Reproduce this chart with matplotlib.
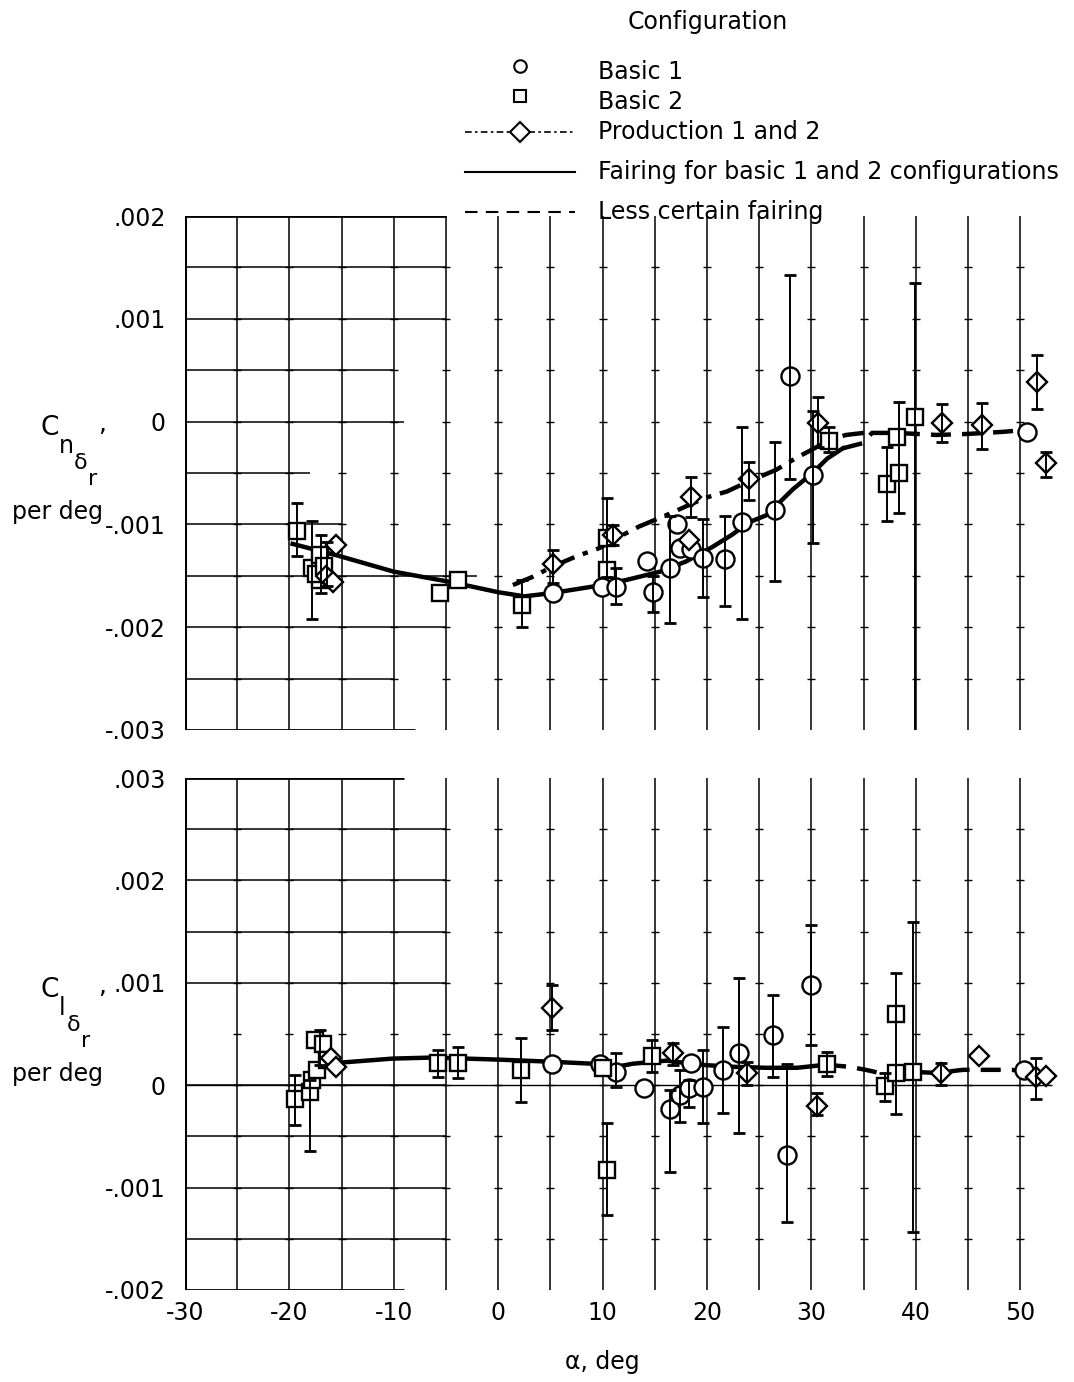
import numpy as np
import matplotlib
matplotlib.use('Agg')
import matplotlib.pyplot as plt

plt.rcParams['font.family'] = ['DejaVu Sans']
plt.rcParams['axes.unicode_minus'] = False
plt.rcParams['mathtext.fontset'] = 'dejavusans'

# ---- yawing moment Cn (upper panel) ----
cn_b1_alpha = [5.2, 9.9, 11.3, 14.2, 14.8, 16.4, 17.1, 17.4, 18.5, 19.6, 21.7, 23.3, 26.5, 27.9, 30.1, 50.6]
cn_b1 = [-0.00167, -0.00161, -0.00161, -0.00136, -0.00166, -0.00142, -0.00100, -0.00123, -0.00124,
         -0.00133, -0.00134, -0.00098, -0.00086, 0.00044, -0.00052, -0.00010]
cn_b2_alpha = [-19.3, -17.8, -17.1, -17.1, -17.5, -16.7, -5.6, -3.9, 2.3, 10.4, 10.4, 31.7, 37.2, 38.4, 38.2, 39.9]
cn_b2 = [-0.00106, -0.00142, -0.00130, -0.00154, -0.00148, -0.00140, -0.00167, -0.00154, -0.00178,
         -0.00144, -0.00113, -0.00019, -0.00061, -0.00050, -0.00015, 0.00004]
cn_p_alpha = [-16.5, -15.5, -15.8, 5.2, 11.0, 18.5, 18.3, 24.0, 30.6, 42.5, 46.3, 51.6, 52.5]
cn_p = [-0.00150, -0.00120, -0.00156, -0.00139, -0.00110, -0.00073, -0.00115, -0.00056, -0.00001,
        -0.00001, -0.00003, 0.00039, -0.00040]
# error bars (alpha, low, high)
cn_err_alpha = [-19.3, -17.8, -17.0, -16.4, 2.3, 10.4, 31.7, 37.2, 38.4, 39.9,
                11.3, 14.8, 16.4, 19.6, 21.7, 23.3, 26.5, 27.9, 30.1,
                5.2, 11.0, 18.5, 24.0, 30.6, 42.5, 46.3, 51.6, 52.5]
cn_err_lo = [-0.00131, -0.00192, -0.00167, -0.00160, -0.00200, -0.00151, -0.00030, -0.00097, -0.00089, -0.00320,
             -0.00177, -0.00185, -0.00196, -0.00171, -0.00179, -0.00192, -0.00155, -0.00056, -0.00118,
             -0.00157, -0.00120, -0.00093, -0.00076, -0.00025, -0.00020, -0.00027, 0.00012, -0.00054]
cn_err_hi = [-0.00079, -0.00097, -0.00110, -0.00117, -0.00154, -0.00074, -0.00005, -0.00025, 0.00019, 0.00135,
             -0.00142, -0.00150, -0.00092, -0.00095, -0.00092, -0.00005, -0.00020, 0.00143, 0.00010,
             -0.00125, -0.00101, -0.00054, -0.00039, 0.00024, 0.00017, 0.00018, 0.00065, -0.00030]
# fairings
cn_fair_alpha = [-19.7, -15.5, -10, -4.6, 0, 2.5, 5, 10, 12.3, 15.5, 18, 20.5, 22.4, 24, 25.7, 28.2, 30.1, 31.5, 33]
cn_fair = [-0.00119, -0.00130, -0.00146, -0.00156, -0.00166, -0.00170, -0.00167, -0.00159, -0.00154, -0.00146,
           -0.00136, -0.00122, -0.00110, -0.00098, -0.00091, -0.00066, -0.00050, -0.00036, -0.00026]
cn_less_alpha = [33, 34.9, 35.8, 38.1, 42, 45, 48.3, 50.6]
cn_less = [-0.00026, -0.00021, -0.00011, -0.00011, -0.00013, -0.00012, -0.00010, -0.00008]
cn_prod_alpha = [1.4, 3.3, 5.2, 7.5, 9.7, 11.6, 13.5, 16.1, 18.3, 19.9, 21.9, 23.8, 26.6, 28.6, 30.1, 31.7, 33.3, 35]
cn_prod = [-0.00159, -0.00151, -0.00141, -0.00131, -0.00123, -0.00112, -0.00102, -0.00091, -0.00081, -0.00074,
           -0.00068, -0.00059, -0.00047, -0.00035, -0.00027, -0.00018, -0.00013, -0.00011]

# ---- rolling moment Cl (lower panel) ----
cl_b1_alpha = [5.1, 9.7, 11.3, 14.0, 16.4, 17.4, 18.3, 18.5, 19.6, 21.5, 23.1, 26.3, 27.7, 30.0, 50.4]
cl_b1 = [0.00021, 0.00021, 0.00013, -0.00003, -0.00023, -0.00010, -0.00003, 0.00022, -0.00002, 0.00015,
         0.00031, 0.00049, -0.00068, 0.00098, 0.00015]
cl_b2_alpha = [-19.5, -18.0, -17.8, -17.4, -17.6, -16.8, -16.4, -5.8, -3.9, 2.2, 10.0, 10.4, 14.7, 31.5, 37.0, 38.1, 38.1, 39.7]
cl_b2 = [-0.00013, -0.00007, 0.00005, 0.00015, 0.00044, 0.00040, 0.00025, 0.00022, 0.00022, 0.00015, 0.00017,
         -0.00083, 0.00029, 0.00021, -0.00001, 0.00070, 0.00012, 0.00013]
cl_p_alpha = [-16.0, -15.5, 5.1, 16.7, 23.8, 30.5, 42.4, 46.0, 51.5, 52.5]
cl_p = [0.00027, 0.00018, 0.00075, 0.00031, 0.00012, -0.00020, 0.00012, 0.00029, 0.00008, 0.00009]
cl_err_alpha = [-19.5, -18.0, -17.1, -5.8, -3.9, 2.2, 5.1, 10.4, 11.3, 14.7, 16.4, 17.4, 16.7, 18.3, 19.6,
                21.5, 23.1, 23.8, 26.3, 27.7, 30.0, 30.5, 31.5, 37.0, 38.1, 39.7, 42.4, 51.5]
cl_err_lo = [-0.00039, -0.00064, 0.00020, 0.00008, 0.00007, -0.00016, 0.00054, -0.00127, -0.00002, 0.00013,
             -0.00085, -0.00036, 0.00020, -0.00021, -0.00037, -0.00027, -0.00047, 0.00000, 0.00008, -0.00134,
             0.00039, -0.00029, 0.00009, -0.00015, -0.00028, -0.00143, 0.00000, -0.00013]
cl_err_hi = [0.00010, 0.00005, 0.00054, 0.00034, 0.00037, 0.00046, 0.00098, -0.00037, 0.00031, 0.00044,
             -0.00005, 0.00015, 0.00041, 0.00005, 0.00034, 0.00057, 0.00105, 0.00023, 0.00088, 0.00021,
             0.00156, -0.00008, 0.00032, 0.00012, 0.00110, 0.00159, 0.00022, 0.00027]
cl_fair_alpha = [-16.6, -15.2, -10.1, -6.3, 0, 4.9, 9, 11.3, 12.9, 16.1, 19.3, 22.4, 25.7, 28.6, 31.4]
cl_fair = [0.00020, 0.00022, 0.00026, 0.00027, 0.00025, 0.00023, 0.00021, 0.00018, 0.00021, 0.00024,
           0.00020, 0.00018, 0.00017, 0.00017, 0.00020]
cl_less_alpha = [31.4, 33.6, 35.2, 36.5, 39.7, 42, 44.5, 46.7, 49.2, 50.5]
cl_less = [0.00020, 0.00018, 0.00015, 0.00012, 0.00013, 0.00012, 0.00015, 0.00015, 0.00015, 0.00013]

x_ticks = [-30, -20, -10, 0, 10, 20, 30, 40, 50]

fig = plt.figure(figsize=(10.74, 13.82), dpi=100)
ax1 = fig.add_axes([0.1723, 0.4718, 0.8166, 0.3719])
ax2 = fig.add_axes([0.1723, 0.0666, 0.8166, 0.3704])

FS = 17


def fmt(v):
    if abs(v) < 1e-9:
        return '0'
    return f'{v:.3f}'.replace('0.', '.')


def frame(ax, ylo, yhi, hgrid_ends, zero_full):
    ax.set_xlim(-30, 54)
    ax.set_ylim(ylo, yhi)
    for s in ax.spines.values():
        s.set_visible(False)
    ax.axvline(-30, color='k', lw=2.2, zorder=1)
    for x in np.arange(-25, 51, 5):
        ax.axvline(x, color='k', lw=1.1, zorder=1)
    levels = np.linspace(ylo, yhi, 11)
    for y, xe in zip(levels, hgrid_ends):
        ax.hlines(y, -30, xe, color='k', lw=1.1 if ylo < y < yhi else 2.0, zorder=1)
    if zero_full:
        ax.hlines(0, -30, 53, color='k', lw=1.0, zorder=1)
    gx, gy = np.meshgrid(np.arange(-25, 51, 5), levels[1:-1])
    ax.plot(gx.ravel(), gy.ravel(), '_', color='k', ms=6, mew=1.0, zorder=1)
    yt = np.linspace(ylo, yhi, 6)
    ax.set_yticks(yt)
    ax.set_yticklabels([fmt(v) for v in yt], fontsize=FS)
    ax.tick_params(length=0, pad=14)


def series(ax, b1a, b1, b2a, b2, pa, p, ea, elo, ehi):
    ax.plot(b1a, b1, 'o', ms=13, mfc='white', mec='k', mew=1.7, zorder=4)
    ax.plot(b2a, b2, 's', ms=11, mfc='white', mec='k', mew=1.7, zorder=4)
    ax.plot(pa, p, 'D', ms=10, mfc='white', mec='k', mew=1.7, zorder=4)
    ax.vlines(ea, elo, ehi, color='k', lw=1.4, zorder=5)
    ax.plot(ea, elo, '_', color='k', ms=9, mew=2, zorder=5)
    ax.plot(ea, ehi, '_', color='k', ms=9, mew=2, zorder=5)


frame(ax1, -0.003, 0.002, [-8, -10, -5, -2, -15, -18, -9, -10, -5, -5, -5], False)
series(ax1, cn_b1_alpha, cn_b1, cn_b2_alpha, cn_b2, cn_p_alpha, cn_p, cn_err_alpha, cn_err_lo, cn_err_hi)
ax1.plot(cn_fair_alpha, cn_fair, color='k', lw=3.2, zorder=3)
ax1.plot(cn_less_alpha, cn_less, color='k', lw=3.2, dashes=(4.5, 2.5), zorder=3)
ax1.plot(cn_prod_alpha, cn_prod, color='k', lw=3.2, dashes=(5, 2, 1.2, 2), zorder=3)
ax1.set_xticks(x_ticks)
ax1.set_xticklabels([])

frame(ax2, -0.002, 0.003, [-9, -5, -5, -5, -5, -30, -5, -5, -5, -5, -9], True)
series(ax2, cl_b1_alpha, cl_b1, cl_b2_alpha, cl_b2, cl_p_alpha, cl_p, cl_err_alpha, cl_err_lo, cl_err_hi)
ax2.plot(cl_fair_alpha, cl_fair, color='k', lw=3.2, zorder=3)
ax2.plot(cl_less_alpha, cl_less, color='k', lw=3.2, dashes=(4.5, 2.5), zorder=3)
ax2.set_xticks(x_ticks)
ax2.set_xticklabels([str(v) for v in x_ticks], fontsize=FS)
ax2.tick_params(axis='x', pad=8)

# overlay in pixel space for the axis titles and the legend
lg = fig.add_axes([0, 0, 1, 1], zorder=10)
lg.set_xlim(0, 1074)
lg.set_ylim(1382, 0)
lg.axis('off')
lg.patch.set_alpha(0)

lg.text(602, 1362, 'α, deg', ha='center', va='center', fontsize=FS)


def coef_label(y0, sub, sub_w):
    # C with stepped-down subscripts, side by side so nothing overlaps
    lg.text(40, y0, 'C', ha='left', va='center', fontsize=19)
    lg.text(59, y0 + 18, sub, ha='left', va='center', fontsize=17)
    lg.text(60 + sub_w, y0 + 35, 'δ', ha='left', va='center', fontsize=16)
    lg.text(74 + sub_w, y0 + 51, 'r', ha='left', va='center', fontsize=16)
    lg.text(98, y0 - 4, ',', ha='left', va='center', fontsize=18)


coef_label(428, 'n', 14)
lg.text(57, 512, 'per deg', ha='center', va='center', fontsize=FS)
coef_label(990, 'l', 7)
lg.text(57, 1074, 'per deg', ha='center', va='center', fontsize=FS)

lg.text(708, 22, 'Configuration', ha='center', va='center', fontsize=FS)
rows = [72, 102, 132, 172, 212]
labels = ['Basic 1', 'Basic 2', 'Production 1 and 2',
          'Fairing for basic 1 and 2 configurations', 'Less certain fairing']
for y, lab in zip(rows, labels):
    lg.text(598, y, lab, ha='left', va='center', fontsize=FS)
lg.plot([520], [rows[0] - 6], 'o', ms=9, mfc='white', mec='k', mew=1.5)
lg.plot([520], [rows[1] - 6], 's', ms=8, mfc='white', mec='k', mew=1.5)
lg.plot([465, 575], [rows[2]] * 2, color='k', lw=1.2, dashes=(4, 2, 1.5, 2))
lg.plot([520], [rows[2]], 'D', ms=10, mfc='white', mec='k', mew=1.5)
lg.plot([465, 575], [rows[3]] * 2, color='k', lw=1.5)
lg.plot([465, 575], [rows[4]] * 2, color='k', lw=1.5, dashes=(6, 4))

fig.savefig('out.png', dpi=100)
